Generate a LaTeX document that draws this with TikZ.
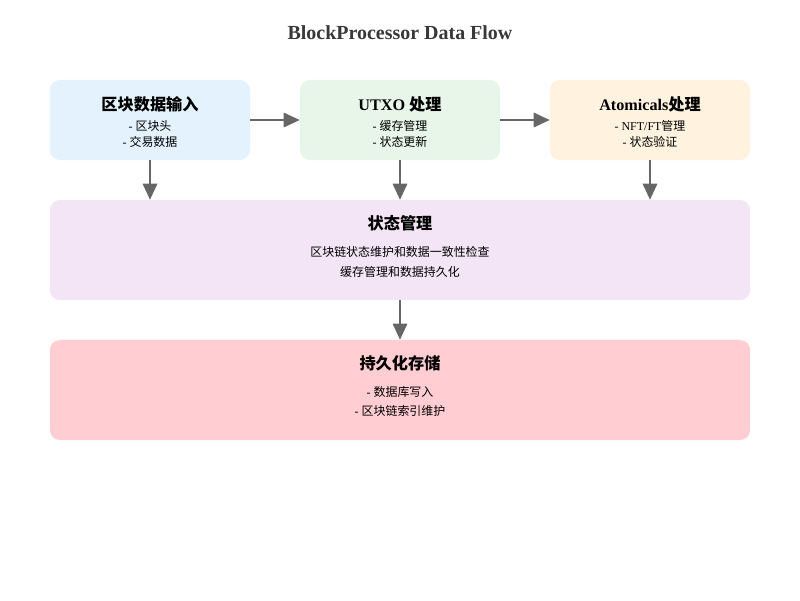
\documentclass[tikz,border=0pt]{standalone}
\usepackage{fontspec}
\setmainfont{Liberation Serif}
\newfontfamily\cjk{Noto Sans CJK SC}
\usetikzlibrary{arrows.meta,positioning}

\definecolor{inblue}{HTML}{E3F2FD}
\definecolor{utxogreen}{HTML}{E8F5E9}
\definecolor{atomorange}{HTML}{FFF3E0}
\definecolor{statepurple}{HTML}{F3E5F5}
\definecolor{storered}{HTML}{FFCDD2}
\definecolor{flowgray}{HTML}{666666}

% struts that nudge the text inside a box
\newcommand{\padtop}{\rule{0pt}{12.2pt}}
\newcommand{\padbot}{\rule[-6pt]{0pt}{6pt}}

\begin{document}
\begin{tikzpicture}[
    x=0.025cm, y=-0.025cm,
    flow/.style={draw=flowgray, line width=1.4pt, -{Triangle[length=4mm, width=3.6mm]}},
    block/.style={
        rounded corners=2.5mm,
        minimum width=5cm,
        minimum height=2cm,
        align=center,
        inner sep=0pt,
        font=\fontsize{8.5}{11}\selectfont
    },
    widebox/.style={
        block,
        minimum width=17.5cm,
        minimum height=2.5cm
    }
]

\useasboundingbox (0,0) rectangle (800,600);

\node[font=\fontsize{14.2}{18}\selectfont\bfseries, text=black!78] (title) at (400, 33)
{BlockProcessor Data Flow};

\node[block, fill=inblue] (input) at (150, 120)
{\padtop{\fontsize{11.5}{14}\selectfont\bfseries\cjk 区块数据输入}\\[3.5pt]
 - {\cjk 区块头}\\ - {\cjk 交易数据}};

\node[block, fill=utxogreen] (utxo) at (400, 120)
{\padtop{\fontsize{11.5}{14}\selectfont\bfseries UTXO {\cjk 处理}}\\[3.5pt]
 - {\cjk 缓存管理}\\ - {\cjk 状态更新}};

\node[block, fill=atomorange] (atomicals) at (650, 120)
{\padtop{\fontsize{11.5}{14}\selectfont\bfseries Atomicals{\cjk 处理}}\\[3.5pt]
 - NFT/FT{\cjk 管理}\\ - {\cjk 状态验证}};

\node[widebox, fill=statepurple] (state) at (400, 250)
{{\fontsize{11.5}{14}\selectfont\bfseries\cjk 状态管理}\\[8pt]
 {\cjk 区块链状态维护和数据一致性检查}\\[3pt]
 {\cjk 缓存管理和数据持久化}\padbot};

\node[widebox, fill=storered] (storage) at (400, 390)
{{\fontsize{11.5}{14}\selectfont\bfseries\cjk 持久化存储}\\[8pt]
 - {\cjk 数据库写入}\\[3pt]
 - {\cjk 区块链索引维护}\padbot};

\draw[flow] (input) -- (utxo);
\draw[flow] (utxo) -- (atomicals);
\draw[flow] (input) -- (input |- state.north);
\draw[flow] (utxo) -- (state);
\draw[flow] (atomicals) -- (atomicals |- state.north);
\draw[flow] (state) -- (storage);

\end{tikzpicture}
\end{document}
